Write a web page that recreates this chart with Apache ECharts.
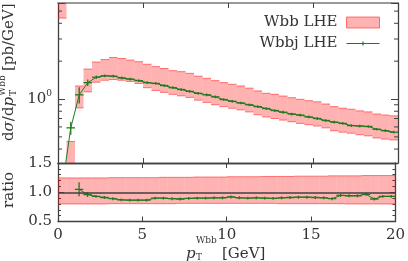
<!DOCTYPE html>
<html><head><meta charset="utf-8">
<script src="https://cdn.jsdelivr.net/npm/echarts@6/dist/echarts.min.js"></script>
<style>html,body{margin:0;padding:0;background:#fff}#c{width:408px;height:261px}</style>
</head><body><div id="c"></div>
<script>
// ---- data ----
const binCenters = [0.25,0.75,1.25,1.75,2.25,2.75,3.25,3.75,4.25,4.75,
  5.25,5.75,6.25,6.75,7.25,7.75,8.25,8.75,9.25,9.75,
  10.25,10.75,11.25,11.75,12.25,12.75,13.25,13.75,14.25,14.75,
  15.25,15.75,16.25,16.75,17.25,17.75,18.25,18.75,19.25,19.75];
const binHalfWidth = 0.25;
const wbbUp = [8.0,0.46,1.27,1.73,1.97,2.06,2.14,2.10,2.04,1.98,
  1.89,1.81,1.75,1.68,1.65,1.60,1.52,1.46,1.40,1.35,
  1.31,1.27,1.22,1.16,1.11,1.09,1.056,1.024,0.995,0.97,
  0.95,0.913,0.87,0.845,0.83,0.805,0.79,0.76,0.746,0.735];
const wbbDown = [4.4,0.25,0.85,1.14,1.36,1.41,1.43,1.41,1.38,1.33,
  1.23,1.17,1.13,1.09,1.06,1.03,0.98,0.94,0.90,0.87,
  0.845,0.82,0.79,0.75,0.72,0.70,0.68,0.66,0.64,0.625,
  0.61,0.59,0.56,0.545,0.535,0.52,0.51,0.49,0.48,0.473];
const wbbjVal = [0.20,0.59,1.08,1.35,1.49,1.53,1.52,1.47,1.44,1.40,
  1.35,1.33,1.28,1.23,1.19,1.15,1.11,1.08,1.04,0.99,
  0.96,0.93,0.90,0.87,0.84,0.81,0.785,0.76,0.745,0.72,
  0.70,0.675,0.655,0.64,0.615,0.61,0.605,0.575,0.56,0.545];
const wbbjErr = [0.02,0.07,0.16,0.08,0.045,0.04,0.04,0.037,0.036,0.035,
  0.034,0.033,0.032,0.031,0.030,0.029,0.028,0.027,0.026,0.025,
  0.024,0.023,0.023,0.022,0.021,0.020,0.020,0.019,0.019,0.018,
  0.018,0.017,0.016,0.016,0.015,0.015,0.015,0.014,0.014,0.014];
const ratioVal = [null,null,1.05,0.96,0.93,0.91,0.89,0.87,0.865,0.865,
  0.865,0.90,0.90,0.89,0.885,0.895,0.90,0.90,0.905,0.905,
  0.92,0.905,0.90,0.905,0.90,0.895,0.905,0.91,0.915,0.915,
  0.91,0.905,0.89,0.945,0.94,0.94,0.965,0.885,0.93,0.93];
const ratioErr = [0,0,0.12,0.04,0.025,0.025,0.025,0.025,0.025,0.025,
  0.025,0.025,0.025,0.025,0.025,0.025,0.025,0.025,0.025,0.025,
  0.025,0.025,0.025,0.025,0.025,0.025,0.025,0.025,0.025,0.025,
  0.025,0.025,0.025,0.025,0.025,0.025,0.025,0.025,0.025,0.025];
const ratioUp = [1.245,1.245,1.245,1.245,1.245,1.245,1.25,1.25,1.25,1.25,
  1.25,1.25,1.255,1.255,1.255,1.255,1.26,1.26,1.26,1.26,
  1.265,1.265,1.265,1.265,1.27,1.27,1.27,1.27,1.275,1.275,
  1.275,1.275,1.28,1.28,1.28,1.28,1.285,1.285,1.285,1.285];
const ratioDown = [0.80,0.80,0.80,0.80,0.80,0.80,0.805,0.805,0.805,0.805,
  0.805,0.805,0.805,0.805,0.81,0.81,0.81,0.81,0.81,0.81,
  0.81,0.81,0.81,0.81,0.81,0.81,0.805,0.805,0.805,0.805,
  0.805,0.805,0.805,0.805,0.80,0.80,0.80,0.80,0.80,0.80];
const upperMinorTicks = [0.4,0.5,0.6,0.7,0.8,0.9,2,3,4,5];
const xRange = [0, 20];
const xStep = 5;

// ---- style ----
const FONT = 'DejaVu Serif';
const TXT = '#333';
const AX = '#404040';
const GREEN = '#1f7a1f';
const PINK = 'rgba(255,0,0,0.3)';
const EDGE = 'rgba(255,40,40,0.6)';

const chart = echarts.init(document.getElementById('c'), null, {renderer:'canvas'});

function bandRender(params, api){
  const c = api.value(0), lo = api.value(1), hi = api.value(2);
  const a = api.coord([c - binHalfWidth, hi]);
  const b = api.coord([c + binHalfWidth, lo]);
  return {type:'group', children:[
    {type:'rect', shape:{x:a[0], y:a[1], width:b[0]-a[0], height:b[1]-a[1]}, style:{fill:PINK}},
    {type:'line', shape:{x1:a[0], y1:a[1], x2:b[0], y2:a[1]}, style:{stroke:EDGE, lineWidth:1}},
    {type:'line', shape:{x1:a[0], y1:b[1], x2:b[0], y2:b[1]}, style:{stroke:EDGE, lineWidth:1}}
  ]};
}
function errRender(params, api){
  const c = api.value(0), v = api.value(1), e = api.value(2);
  const l = api.coord([c - binHalfWidth, v]), r = api.coord([c + binHalfWidth, v]);
  const t = api.coord([c, v + e]), b = api.coord([c, v - e]);
  return {type:'group', children:[
    {type:'line', shape:{x1:l[0], y1:l[1], x2:r[0], y2:r[1]}, style:{stroke:GREEN, lineWidth:1.3}},
    {type:'line', shape:{x1:t[0], y1:t[1], x2:b[0], y2:b[1]}, style:{stroke:GREEN, lineWidth:1.3}}
  ]};
}
function minorTickRender(params, api){
  const v = api.value(1);
  const p0 = api.coord([xRange[0], v]), p1 = api.coord([xRange[1], v]);
  return {type:'group', children:[
    {type:'line', shape:{x1:p0[0], y1:p0[1], x2:p0[0]+4, y2:p0[1]}, style:{stroke:AX, lineWidth:1}},
    {type:'line', shape:{x1:p1[0]-4, y1:p1[1], x2:p1[0], y2:p1[1]}, style:{stroke:AX, lineWidth:1}}
  ]};
}

const upperBand = binCenters.map((c,i)=>[c, wbbDown[i], wbbUp[i]]);
const upperLine = binCenters.map((c,i)=>[c, wbbjVal[i]]);
const upperErr = binCenters.map((c,i)=>[c, wbbjVal[i], wbbjErr[i]]);
const ratioBand = binCenters.map((c,i)=>[c, ratioDown[i], ratioUp[i]]);
const ratioLine = binCenters.map((c,i)=>[c, ratioVal[i]]);
const ratioErrData = binCenters.map((c,i)=>[c, ratioVal[i], ratioErr[i]]).filter(d=>d[1]!==null);

const xBase = (grid, pos, labels, lineColor, lineW) => ({
  gridIndex: grid, type:'value', min:xRange[0], max:xRange[1], interval:xStep, position:pos,
  axisLine:{onZero:false, lineStyle:{color:lineColor, width:lineW}},
  axisTick:{inside:true, length:5, lineStyle:{color:AX, width:1}},
  axisLabel:{show:labels, color:TXT, fontFamily:FONT, fontSize:15, margin:6},
  splitLine:{show:false}
});

const option = {
  animation:false,
  backgroundColor:'#fff',
  grid:[
    {left:58, right:10, top:3, height:160},
    {left:58, right:10, top:163, height:58.5}
  ],
  xAxis:[
    xBase(0,'bottom',false,AX,1.3),
    xBase(0,'top',false,'#999',2),
    xBase(1,'bottom',true,AX,1.3),
    xBase(1,'top',false,AX,1.3)
  ],
  yAxis:[
    {gridIndex:0, type:'log', logBase:10, min:0.31, max:5.8, position:'left',
     axisLine:{onZero:false, lineStyle:{color:AX, width:1.3}},
     axisTick:{inside:true, length:7, lineStyle:{color:AX}},
     splitLine:{show:false},
     axisLabel:{margin:6, color:TXT, fontFamily:FONT,
       formatter: v => Math.abs(Math.log10(v)) < 1e-6 ? '{a|10}{b|0}' : '',
       rich:{a:{fontFamily:FONT, fontSize:15, color:TXT, lineHeight:20},
             b:{fontFamily:FONT, fontSize:9, color:TXT, lineHeight:12, verticalAlign:'top'}}}},
    {gridIndex:0, type:'log', logBase:10, min:0.31, max:5.8, position:'right',
     axisLine:{onZero:false, lineStyle:{color:AX, width:1.3}},
     axisTick:{inside:true, length:7, lineStyle:{color:AX}},
     splitLine:{show:false}, axisLabel:{show:false}},
    {gridIndex:1, type:'value', min:0.5, max:1.5, interval:0.5, position:'left',
     axisLine:{onZero:false, lineStyle:{color:AX, width:1.3}},
     axisTick:{inside:true, length:6, lineStyle:{color:AX}},
     minorTick:{show:true, splitNumber:5, length:3, lineStyle:{color:AX}},
     splitLine:{show:false},
     axisLabel:{margin:6, color:TXT, fontFamily:FONT, fontSize:15, formatter: v => v.toFixed(1)}},
    {gridIndex:1, type:'value', min:0.5, max:1.5, interval:0.5, position:'right',
     axisLine:{onZero:false, lineStyle:{color:AX, width:1.3}},
     axisTick:{inside:true, length:6, lineStyle:{color:AX}},
     minorTick:{show:true, splitNumber:5, length:3, lineStyle:{color:AX}},
     splitLine:{show:false}, axisLabel:{show:false}}
  ],
  legend:{
    orient:'vertical', right:23, top:9, align:'right', itemWidth:33, itemHeight:11, itemGap:4,
    textStyle:{fontFamily:FONT, fontSize:15, color:TXT, padding:[0,4,0,0], lineHeight:17},
    data:[
      {name:'Wbb LHE', icon:'rect', itemStyle:{color:PINK, borderColor:EDGE, borderWidth:1}},
      {name:'Wbbj LHE', icon:'path://M0,1.4 L33,1.4 L33,2.6 L0,2.6 Z M15.9,0 L17.1,0 L17.1,4 L15.9,4 Z',
       itemStyle:{color:GREEN}}
    ]
  },
  series:[
    {name:'Wbb LHE', type:'custom', xAxisIndex:0, yAxisIndex:0, clip:true, renderItem:bandRender,
     encode:{x:0, y:[1,2]}, data:upperBand, itemStyle:{color:PINK}, z:1, silent:true},
    {type:'custom', xAxisIndex:0, yAxisIndex:0, renderItem:minorTickRender, encode:{x:0,y:1},
     data:upperMinorTicks.map(v=>[xRange[0], v]), z:5, silent:true},
    {name:'Wbbj LHE', type:'line', xAxisIndex:0, yAxisIndex:0, data:upperLine,
     lineStyle:{color:GREEN, width:1}, itemStyle:{color:GREEN},
     symbol:'none', z:3, silent:true},
    {type:'custom', xAxisIndex:0, yAxisIndex:0, clip:true, renderItem:errRender,
     encode:{x:0, y:1}, data:upperErr, z:4, silent:true},
    {type:'custom', xAxisIndex:2, yAxisIndex:2, clip:true, renderItem:bandRender,
     encode:{x:0, y:[1,2]}, data:ratioBand, z:1, silent:true,
     markLine:{silent:true, symbol:['none','none'], label:{show:false},
       lineStyle:{color:AX, width:1.5, type:'solid'}, data:[{yAxis:1}]}},
    {type:'line', xAxisIndex:2, yAxisIndex:2, data:ratioLine, connectNulls:false,
     lineStyle:{color:GREEN, width:1}, symbol:'none', z:3, silent:true},
    {type:'custom', xAxisIndex:2, yAxisIndex:2, clip:true, renderItem:errRender,
     encode:{x:0, y:1}, data:ratioErrData, z:4, silent:true}
  ],
  graphic:[
    {type:'group', x:9, y:141, rotation:Math.PI/2, silent:true, children:[
      {type:'text', x:0, y:0, style:{text:'{r|d}{i|σ}{r|/d}{i|p}', verticalAlign:'middle', align:'left',
        rich:{r:{fontFamily:FONT, fontSize:15, fill:TXT}, i:{fontFamily:FONT, fontSize:15, fontStyle:'italic', fill:TXT}}}},
      {type:'text', x:45, y:-6, style:{text:'Wbb', fontFamily:FONT, fontSize:9, fill:TXT, verticalAlign:'middle', align:'left'}},
      {type:'text', x:45, y:5, style:{text:'T', fontFamily:FONT, fontSize:9, fill:TXT, verticalAlign:'middle', align:'left'}},
      {type:'text', x:70, y:0, style:{text:'[pb/GeV]', fontFamily:FONT, fontSize:15, fill:TXT, verticalAlign:'middle', align:'left'}}
    ]},
    {type:'text', x:9, y:190, rotation:Math.PI/2, silent:true,
     style:{text:'ratio', fontFamily:FONT, fontSize:15, fill:TXT, verticalAlign:'middle', align:'center'}},
    {type:'text', x:186, y:254, silent:true, style:{text:'p', fontFamily:FONT, fontSize:15, fontStyle:'italic', fill:TXT, verticalAlign:'middle', align:'left'}},
    {type:'text', x:196, y:241, silent:true, style:{text:'Wbb', fontFamily:FONT, fontSize:9, fill:TXT, verticalAlign:'middle', align:'left'}},
    {type:'text', x:196, y:258, silent:true, style:{text:'T', fontFamily:FONT, fontSize:9, fill:TXT, verticalAlign:'middle', align:'left'}},
    {type:'text', x:222, y:254, silent:true, style:{text:'[GeV]', fontFamily:FONT, fontSize:15, fill:TXT, verticalAlign:'middle', align:'left'}}
  ]
};
chart.setOption(option);
</script></body></html>
